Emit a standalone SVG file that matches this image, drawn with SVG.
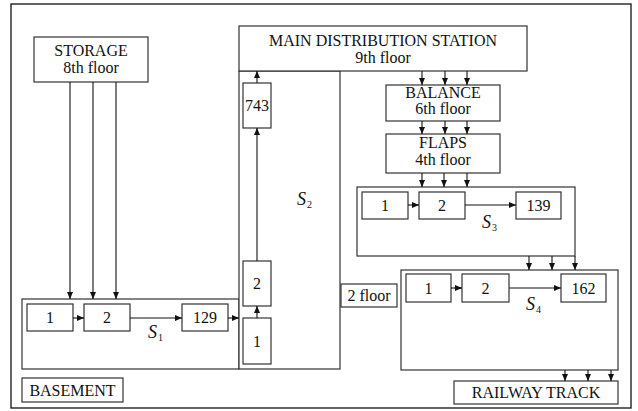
<svg xmlns="http://www.w3.org/2000/svg" width="638" height="411" viewBox="0 0 638 411">
<style>
text{font-family:'Liberation Serif','Times New Roman','DejaVu Serif',serif}
.t{font-size:16px;fill:#111;text-anchor:middle}
.s{font-size:18px;font-style:italic;fill:#111}
.sub{font-size:10px;fill:#111}
.box{fill:#fff;stroke:#333;stroke-width:1.2}
.c{stroke:#111;stroke-width:1.1;fill:none;marker-end:url(#ah)}
</style>
<defs>
<marker id="ah" markerUnits="userSpaceOnUse" markerWidth="8" markerHeight="8" viewBox="0 0 8 8" refX="7" refY="4" orient="auto">
<path d="M0,1 L7,4 L0,7 Z" fill="#111"/>
</marker>
</defs>
<rect x="0" y="0" width="638" height="411" fill="#fff"/>
<rect x="11" y="4" width="620" height="404" fill="none" stroke="#111" stroke-width="1.3"/>

<g id="storage"><rect class="box" x="34" y="37" width="114" height="45"/><text class="t" x="91" y="56">STORAGE</text><text class="t" x="91" y="73">8th floor</text></g>
<g id="s1"><rect class="box" x="22" y="299" width="217" height="70"/><text class="s" x="148" y="338">S</text><text class="sub" x="158" y="341">1</text></g>
<g id="s1-1"><rect class="box" x="27" y="304" width="46" height="27"/><text class="t" x="50" y="323">1</text></g>
<g id="s1-2"><rect class="box" x="84" y="304" width="46" height="27"/><text class="t" x="107" y="323">2</text></g>
<g id="s1-129"><rect class="box" x="182" y="304" width="46" height="27"/><text class="t" x="205" y="323">129</text></g>

<g id="s2"><rect class="box" x="239" y="71" width="101" height="298"/><text class="s" x="297" y="205">S</text><text class="sub" x="307" y="208">2</text></g>
<g id="main"><rect class="box" x="239" y="26" width="288" height="45"/><text class="t" x="383" y="46">MAIN DISTRIBUTION STATION</text><text class="t" x="383" y="63">9th floor</text></g>
<g id="s2-743"><rect class="box" x="243" y="83" width="28" height="45"/><text class="t" x="257" y="111">743</text></g>
<g id="s2-2"><rect class="box" x="243" y="261" width="28" height="45"/><text class="t" x="257" y="289">2</text></g>
<g id="s2-1"><rect class="box" x="243" y="318" width="28" height="46"/><text class="t" x="257" y="347">1</text></g>

<g id="balance"><rect class="box" x="386" y="85" width="114" height="36"/><text class="t" x="443" y="98">BALANCE</text><text class="t" x="443" y="114">6th floor</text></g>
<g id="flaps"><rect class="box" x="386" y="134" width="114" height="39"/><text class="t" x="443" y="148">FLAPS</text><text class="t" x="443" y="165">4th floor</text></g>

<g id="s3"><rect class="box" x="357" y="187" width="218" height="69"/><text class="s" x="482" y="228">S</text><text class="sub" x="492" y="231">3</text></g>
<g id="s3-1"><rect class="box" x="362" y="192" width="46" height="27"/><text class="t" x="385" y="211">1</text></g>
<g id="s3-2"><rect class="box" x="419" y="192" width="46" height="27"/><text class="t" x="442" y="211">2</text></g>
<g id="s3-139"><rect class="box" x="516" y="192" width="45" height="27"/><text class="t" x="538.5" y="211">139</text></g>

<g id="s4"><rect class="box" x="401" y="270" width="217" height="100"/><text class="s" x="526" y="310">S</text><text class="sub" x="536" y="313">4</text></g>
<g id="s4-1"><rect class="box" x="406" y="274" width="45" height="28"/><text class="t" x="428.5" y="293.5">1</text></g>
<g id="s4-2"><rect class="box" x="462" y="274" width="47" height="28"/><text class="t" x="485.5" y="293.5">2</text></g>
<g id="s4-162"><rect class="box" x="561" y="274" width="45" height="28"/><text class="t" x="583.5" y="293.5">162</text></g>

<g id="floor2"><rect class="box" x="341" y="284" width="56" height="23"/><text class="t" x="369" y="301">2 floor</text></g>
<g id="railway"><rect class="box" x="454" y="381" width="164" height="23"/><text class="t" x="536" y="398">RAILWAY TRACK</text></g>
<g id="basement"><rect class="box" x="22" y="378" width="101" height="24"/><text class="t" x="72.5" y="395.5">BASEMENT</text></g>

<g id="connectors">
<line class="c" x1="70" y1="82" x2="70" y2="299"/>
<line class="c" x1="93" y1="82" x2="93" y2="299"/>
<line class="c" x1="116" y1="82" x2="116" y2="299"/>
<line class="c" x1="73" y1="318" x2="84" y2="318"/>
<line class="c" x1="130" y1="318" x2="182" y2="318"/>
<line class="c" x1="228" y1="318" x2="239" y2="318"/>
<line class="c" x1="257" y1="318" x2="257" y2="306"/>
<line class="c" x1="257" y1="261" x2="257" y2="128"/>
<line class="c" x1="257" y1="83" x2="257" y2="71"/>
<line class="c" x1="422" y1="71" x2="422" y2="85"/>
<line class="c" x1="445" y1="71" x2="445" y2="85"/>
<line class="c" x1="467" y1="71" x2="467" y2="85"/>
<line class="c" x1="422" y1="121" x2="422" y2="134"/>
<line class="c" x1="445" y1="121" x2="445" y2="134"/>
<line class="c" x1="467" y1="121" x2="467" y2="134"/>
<line class="c" x1="422" y1="173" x2="422" y2="187"/>
<line class="c" x1="444" y1="173" x2="444" y2="187"/>
<line class="c" x1="467" y1="173" x2="467" y2="187"/>
<line class="c" x1="408" y1="205" x2="419" y2="205"/>
<line class="c" x1="465" y1="205" x2="516" y2="205"/>
<line class="c" x1="529" y1="256" x2="529" y2="270"/>
<line class="c" x1="552" y1="256" x2="552" y2="270"/>
<line class="c" x1="575" y1="256" x2="575" y2="270"/>
<line class="c" x1="451" y1="288" x2="462" y2="288"/>
<line class="c" x1="509" y1="288" x2="561" y2="288"/>
<line class="c" x1="565" y1="370" x2="565" y2="381"/>
<line class="c" x1="588" y1="370" x2="588" y2="381"/>
<line class="c" x1="611" y1="370" x2="611" y2="381"/>
</g>
</svg>
